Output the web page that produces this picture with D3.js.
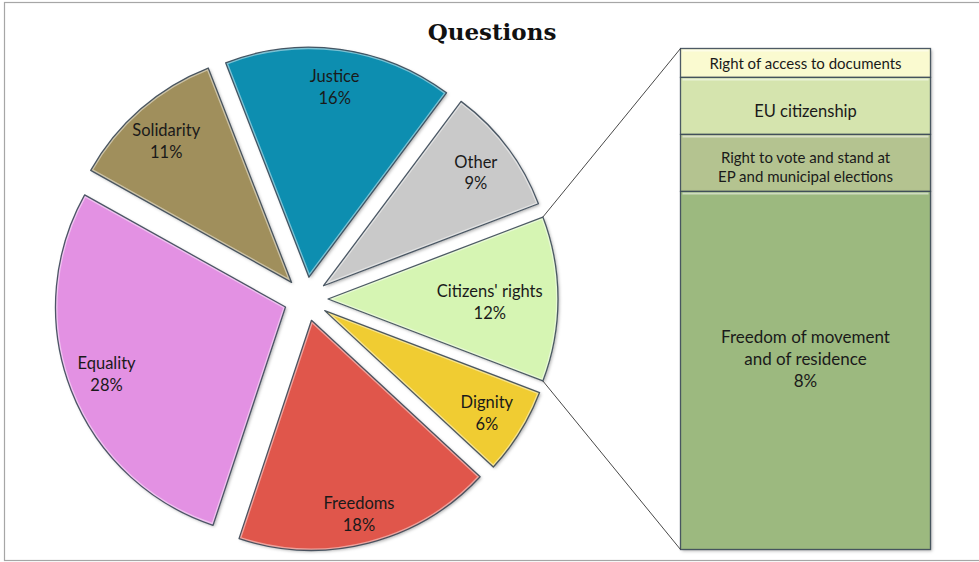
<!DOCTYPE html>
<html><head><meta charset="utf-8">
<script src="https://cdn.jsdelivr.net/npm/d3@7"></script>
<style>body{margin:0;background:#fff}</style>
</head><body><svg id="c" width="979" height="562"></svg>
<script>
const title = "Questions";
const categories = ["Citizens' rights","Dignity","Freedoms","Equality","Solidarity","Justice","Other"];
const values = [11.6, 6.1, 18.2, 28.0, 11.0, 16.1, 9.0];
const colors = ["#d6f5b3","#f0cc33","#e0574b","#e391e3","#a08f5c","#0c8eb0","#c9c9c9"];
const barCategories = [["Right of access to documents"],["EU citizenship"],["Right to vote and stand at","EP and municipal elections"],["Freedom of movement","and of residence"]];
const barValues = [0.67, 1.32, 1.32, 8.29];
const barColors = ["#fafad0","#d5e4ae","#b4c390","#9cb97f"];
const barShowPct = [false, false, false, true];

const svg = d3.select("#c");
const total = d3.sum(values);
const fmt = v => Math.round(v / total * 100) + "%";

const defs = svg.append("defs");
const f = defs.append("filter").attr("id","sh").attr("x","-20%").attr("y","-20%").attr("width","140%").attr("height","140%");
f.append("feDropShadow").attr("dx",1.5).attr("dy",1.5).attr("stdDeviation",1.5).attr("flood-color","#000").attr("flood-opacity",0.3);

// chart border
svg.append("rect").attr("x",4.5).attr("y",2.5).attr("width",990).attr("height",558)
  .attr("fill","#fff").attr("stroke","#a6a6a6").attr("stroke-width",1.2);

svg.append("text").attr("x",492).attr("y",40).attr("text-anchor","middle")
  .attr("font-family","DejaVu Serif").attr("font-weight","bold").attr("font-size",23)
  .attr("fill","#111").text(title);

// pie
const cx = 306, cy = 299, r = 230, ex = 22;
const a0 = Math.PI/2 - values[0]/total*Math.PI;
const pie = d3.pie().sort(null).value(d => d).startAngle(a0).endAngle(a0 + 2*Math.PI);
const arcs = pie(values);
const arc = d3.arc().innerRadius(0).outerRadius(r);

arcs.forEach((d, i) => {
  const mid = (d.startAngle + d.endAngle)/2;
  const ox = cx + ex*Math.sin(mid), oy = cy - ex*Math.cos(mid);
  d.ox = ox; d.oy = oy; d.mid = mid;
  const g = svg.append("g").attr("transform", `translate(${ox},${oy})`);
  const cid = "clip" + i;
  defs.append("clipPath").attr("id", cid).append("path").attr("d", arc(d));
  g.append("path").attr("d", arc(d)).attr("fill", colors[i]).attr("filter","url(#sh)");
  g.append("path").attr("d", arc(d)).attr("fill","none").attr("stroke","#fff")
    .attr("stroke-opacity",0.45).attr("stroke-width",4).attr("clip-path",`url(#${cid})`);
  g.append("path").attr("d", arc(d)).attr("fill","none").attr("stroke","#3a4856")
    .attr("stroke-opacity",0.9).attr("stroke-width",1.3).attr("stroke-linejoin","round");
});

// labels (small per-slice nudges mimic the spreadsheet's best-fit placement)
const labelNudge = [[-5,3],[0,2],[0,9],[-1,-2],[0,3],[0,-1],[0,2]];
arcs.forEach((d, i) => {
  const t = svg.append("text").attr("font-family","Lato").attr("font-size",16.5)
    .attr("fill","#1a1a1a").attr("text-anchor","middle");
  const l1 = t.append("tspan").attr("x",0).attr("dy",0).text(categories[i]);
  const l2 = t.append("tspan").attr("x",0).attr("dy",21.5).text(fmt(values[i]));
  const w = Math.max(l1.node().getComputedTextLength(), l2.node().getComputedTextLength());
  const sx = Math.sin(d.mid), sy = -Math.cos(d.mid);
  let k = 0.83;
  for (; k > 0.4; k -= 0.005) {
    const lx = k*r*sx, ly = k*r*sy;
    const m = Math.max(Math.hypot(lx + w/2, ly), Math.hypot(lx - w/2, ly));
    if (m <= r - 10) break;
  }
  const lx = d.ox + k*r*sx + labelNudge[i][0], ly = d.oy + k*r*sy + labelNudge[i][1];
  t.attr("transform", `translate(${lx},${ly - 5})`);
});

// bar
const bx0 = 680.5, bx1 = 930.5;
const stackEnds = d3.cumsum(barValues);
const y = d3.scaleLinear().domain([0, d3.sum(barValues)]).range([48.5, 549.5]);
const barSizes = [15, 16.5, 15, 17];
const barLH = [18, 20, 19, 22];
const barNudge = [1, 5, 4, -11];
barValues.forEach((v, i) => {
  const top = y(stackEnds[i] - v), bot = y(stackEnds[i]);
  svg.append("rect").attr("x", bx0).attr("y", top).attr("width", bx1 - bx0).attr("height", bot - top)
    .attr("fill", barColors[i]).attr("filter","url(#sh)");
  svg.append("line").attr("x1",bx0+2).attr("x2",bx1-2).attr("y1",top+2).attr("y2",top+2)
    .attr("stroke","#fff").attr("stroke-opacity",0.5).attr("stroke-width",2);
  svg.append("rect").attr("x", bx0).attr("y", top).attr("width", bx1 - bx0).attr("height", bot - top)
    .attr("fill","none").attr("stroke","#3a4856").attr("stroke-opacity",0.9).attr("stroke-width",1.3);
  const lines = barCategories[i].slice();
  if (barShowPct[i]) lines.push(fmt(v));
  const lh = barLH[i];
  const midY = (top + bot)/2 + barNudge[i];
  const t = svg.append("text").attr("font-family","Lato").attr("font-size",barSizes[i])
    .attr("fill","#1a1a1a").attr("text-anchor","middle");
  lines.forEach((s, j) => {
    t.append("tspan").attr("x", (bx0+bx1)/2)
      .attr("y", midY + (j - (lines.length-1)/2)*lh + barSizes[i]*0.35).text(s);
  });
});

// connectors
const cr = arcs[0];
const p0 = [cr.ox + r*Math.sin(cr.startAngle), cr.oy - r*Math.cos(cr.startAngle)];
const p1 = [cr.ox + r*Math.sin(cr.endAngle), cr.oy - r*Math.cos(cr.endAngle)];
svg.append("line").attr("x1",p0[0]).attr("y1",p0[1]).attr("x2",bx0).attr("y2",y.range()[0])
  .attr("stroke","#333").attr("stroke-width",0.9);
svg.append("line").attr("x1",p1[0]).attr("y1",p1[1]).attr("x2",bx0).attr("y2",y.range()[1])
  .attr("stroke","#333").attr("stroke-width",0.9);
</script>
</body></html>
